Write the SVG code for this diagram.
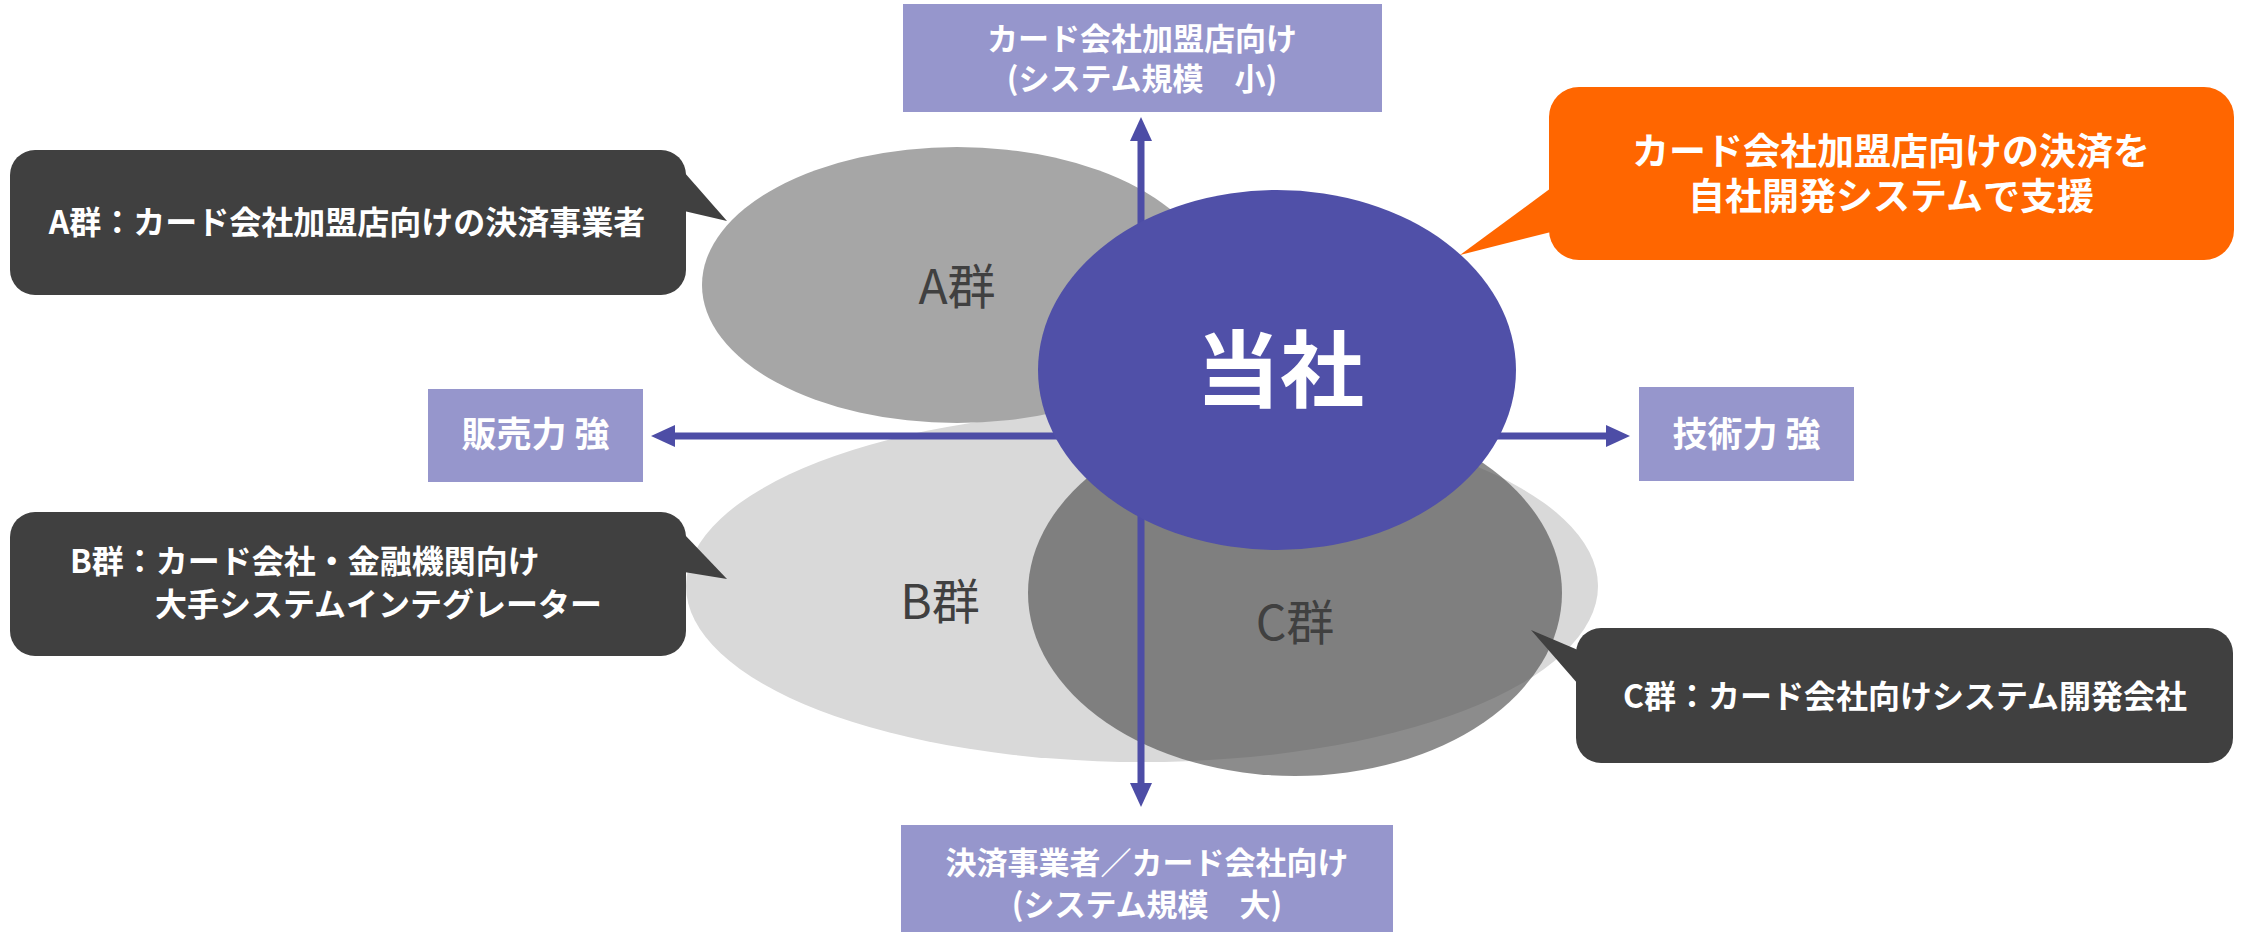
<svg xmlns="http://www.w3.org/2000/svg" width="2241" height="932" viewBox="0 0 2241 932">
  <defs>
    <style>
      .jp { font-family: "Noto Sans CJK JP", "Noto Sans", sans-serif; }
      .callout { fill: #404040; }
      .callout-text { fill: #ffffff; font-weight: 700; font-size: 32px; }
      .axis-box { fill: #9696cc; }
      .axis-text { fill: #ffffff; font-weight: 700; font-size: 31px; text-anchor: middle; }
      .group-label { fill: #404040; font-weight: 400; font-size: 48px; text-anchor: middle; }
      .axis-line { stroke: #4d4da6; stroke-width: 7; fill: none; }
    </style>
    <marker id="arrow" viewBox="0 -11 24 22" refX="0" refY="0" markerWidth="24" markerHeight="22" markerUnits="userSpaceOnUse" orient="auto-start-reverse">
      <path d="M0,-11 L24,0 L0,11 z" fill="#4d4da6"/>
    </marker>
  </defs>

  <!-- group ellipses -->
  <g id="groupB">
    <ellipse cx="1142" cy="586" rx="456" ry="176" fill="#d9d9d9"/>
    <text class="jp group-label" x="940" y="619">B群</text>
  </g>
  <g id="groupA">
    <ellipse cx="957" cy="285" rx="255" ry="138" fill="#a6a6a6"/>
    <text class="jp group-label" x="957" y="304">A群</text>
  </g>
  <g id="groupC">
    <ellipse cx="1295" cy="593" rx="267" ry="183" fill="#505050" fill-opacity="0.66"/>
    <text class="jp group-label" x="1295" y="640">C群</text>
  </g>

  <!-- connectors (axes) -->
  <g id="connectors">
    <path class="axis-line" d="M675,436 L1606,436" marker-start="url(#arrow)" marker-end="url(#arrow)"/>
    <path class="axis-line" d="M1141,141 L1141,783" marker-start="url(#arrow)" marker-end="url(#arrow)"/>
  </g>

  <!-- our company -->
  <g id="ourCompany">
    <ellipse cx="1277" cy="370" rx="239" ry="180" fill="#5050a8"/>
    <text class="jp" x="1280" y="401" fill="#ffffff" font-weight="700" font-size="84" text-anchor="middle">当社</text>
  </g>

  <!-- axis labels -->
  <g id="axisTop">
    <rect class="axis-box" x="903" y="4" width="479" height="108"/>
    <text class="jp axis-text" x="1142" y="50">カード会社加盟店向け</text>
    <text class="jp axis-text" x="1142" y="90">(システム規模　小)</text>
  </g>
  <g id="axisBottom">
    <rect class="axis-box" x="901" y="825" width="492" height="107"/>
    <text class="jp axis-text" x="1147" y="874">決済事業者／カード会社向け</text>
    <text class="jp axis-text" x="1147" y="916">(システム規模　大)</text>
  </g>
  <g id="axisLeft">
    <rect class="axis-box" x="428" y="389" width="215" height="93"/>
    <text class="jp axis-text" x="535.5" y="447" style="font-size:35px">販売力 強</text>
  </g>
  <g id="axisRight">
    <rect class="axis-box" x="1639" y="387" width="215" height="94"/>
    <text class="jp axis-text" x="1746.5" y="447" style="font-size:35px">技術力 強</text>
  </g>

  <!-- callouts -->
  <g id="calloutA">
    <rect class="callout" x="10" y="150" width="676" height="145" rx="25" ry="25"/>
    <polygon class="callout" points="684,172 727,221 684,211"/>
    <text class="jp callout-text" x="347" y="234" text-anchor="middle">A群：カード会社加盟店向けの決済事業者</text>
  </g>
  <g id="calloutB">
    <rect class="callout" x="10" y="512" width="676" height="144" rx="25" ry="25"/>
    <polygon class="callout" points="684,534 727,579 684,572"/>
    <text class="jp callout-text" x="70" y="573">B群：カード会社・金融機関向け</text>
    <text class="jp callout-text" x="155" y="616">大手システムインテグレーター</text>
  </g>
  <g id="calloutC">
    <rect class="callout" x="1576" y="628" width="657" height="135" rx="25" ry="25"/>
    <polygon class="callout" points="1578,650 1531,630 1578,684"/>
    <text class="jp callout-text" x="1905" y="708" text-anchor="middle">C群：カード会社向けシステム開発会社</text>
  </g>
  <g id="calloutOurs">
    <rect x="1549" y="87" width="685" height="173" rx="30" ry="30" fill="#ff6600"/>
    <polygon points="1551,188 1460,255 1551,232" fill="#ff6600"/>
    <text class="jp" x="1891" y="165" fill="#ffffff" font-weight="700" font-size="37" text-anchor="middle">カード会社加盟店向けの決済を</text>
    <text class="jp" x="1891" y="210" fill="#ffffff" font-weight="700" font-size="37" text-anchor="middle">自社開発システムで支援</text>
  </g>
</svg>
